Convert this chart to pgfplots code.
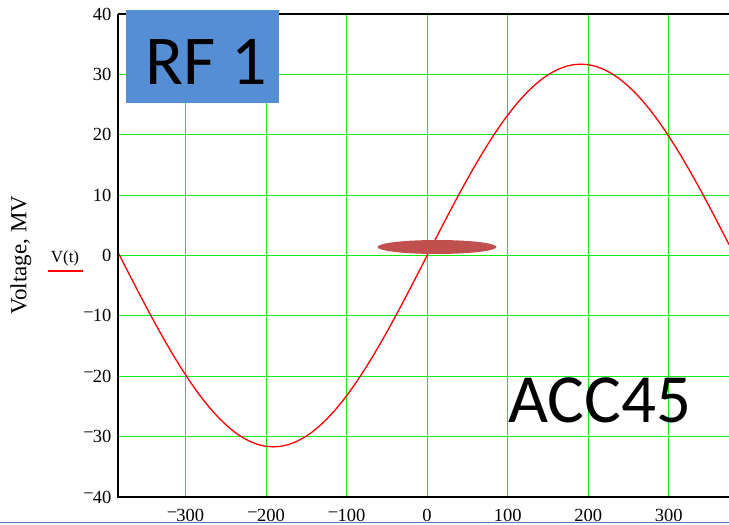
\documentclass[border=0pt]{standalone}
\usepackage{pgfplots}
\pgfplotsset{compat=1.18}
\usepackage{fontspec}
\setmainfont{Liberation Serif}
\newfontfamily\carlito{Carlito}
\definecolor{gridgreen}{RGB}{20,235,20}
\definecolor{boxblue}{RGB}{85,142,213}
\definecolor{ellred}{RGB}{192,80,77}
\definecolor{botblue}{RGB}{79,129,189}
\newcommand\m{\raisebox{0.2em}{−}\kern-0.05em}
\begin{document}
\begin{tikzpicture}
\path[use as bounding box] (-118pt,-28pt) rectangle (611pt,497pt);
\begin{axis}[
  at={(0,0)}, anchor=south west,
  scale only axis, width=611pt, height=483pt,
  xmin=-384, xmax=375, ymin=-40, ymax=40,
  axis line style={draw=none},
  xtick={-300,-200,-100,0,100,200,300},
  xticklabels={\m300,\m200,\m100,0,100,200,300},
  ytick={-40,-30,-20,-10,0,10,20,30,40},
  yticklabels={\m40,\m30,\m20,\m10,0,10,20,30,40},
  major tick length=0pt,
  grid=major,
  major grid style={gridgreen, line width=1pt},
  x tick label style={font=\fontsize{18.5}{20}\selectfont, anchor=base, yshift=-25pt},
  y tick label style={font=\fontsize{18.5}{20}\selectfont, anchor=east, xshift=-3pt},
  clip=true,
]
\addplot[red, line width=1.3pt] coordinates {
(-384,0.52) (-382,0) (-372.45,-2.49) (-362.9,-4.96) (-353.35,-7.40) (-343.8,-9.80)
(-334.25,-12.13) (-324.7,-14.39) (-315.15,-16.56) (-305.6,-18.63) (-296.05,-20.59)
(-286.5,-22.42) (-276.95,-24.11) (-267.4,-25.65) (-257.85,-27.03) (-248.3,-28.24)
(-238.75,-29.29) (-229.2,-30.15) (-219.65,-30.82) (-210.1,-31.31) (-200.55,-31.60)
(-191,-31.70) (-181.45,-31.60) (-171.9,-31.31) (-162.35,-30.82) (-152.8,-30.15)
(-143.25,-29.29) (-133.7,-28.24) (-124.15,-27.03) (-114.6,-25.65) (-105.05,-24.11)
(-95.5,-22.42) (-85.95,-20.59) (-76.4,-18.63) (-66.85,-16.56) (-57.3,-14.39)
(-47.75,-12.13) (-38.2,-9.80) (-28.65,-7.40) (-19.1,-4.96) (-9.55,-2.49)
(0,0) (9.55,2.49) (19.1,4.96) (28.65,7.40) (38.2,9.80) (47.75,12.13) (57.3,14.39)
(66.85,16.56) (76.4,18.63) (85.95,20.59) (95.5,22.42) (105.05,24.11) (114.6,25.65)
(124.15,27.03) (133.7,28.24) (143.25,29.29) (152.8,30.15) (162.35,30.82)
(171.9,31.31) (181.45,31.60) (191,31.70) (200.55,31.60) (210.1,31.31)
(219.65,30.82) (229.2,30.15) (238.75,29.29) (248.3,28.24) (257.85,27.03)
(267.4,25.65) (276.95,24.11) (286.5,22.42) (296.05,20.59) (305.6,18.63)
(315.15,16.56) (324.7,14.39) (334.25,12.13) (343.8,9.80) (353.35,7.40)
(362.9,4.96) (372.45,2.49) (375,1.82)
};
\end{axis}
% axis frame: left, bottom, top
\draw[black, line width=1.5pt] (0,483pt) -- (0,0) -- (611pt,0);
\draw[black, line width=1.5pt] (0,483pt) -- (611pt,483pt);
% ellipse marker
\fill[ellred] (319pt,250pt) ellipse [x radius=59.5pt, y radius=7pt];
% RF 1 box
\fill[boxblue] (8pt,394pt) rectangle (161pt,487pt);
\node[anchor=base, inner sep=0pt, font=\carlito\fontsize{70}{72}\selectfont] at (88pt,412pt) {RF 1};
% ACC45
\node[anchor=base, inner sep=0pt, font=\carlito\fontsize{69}{72}\selectfont] at (482pt,74pt) {ACC45};
% y label and legend
\node[rotate=90, inner sep=0pt, font=\fontsize{23}{25}\selectfont] at (-97pt,242pt) {Voltage, MV};
\node[anchor=base, inner sep=0pt, font=\fontsize{17}{19}\selectfont] at (-53pt,234pt) {V(t)};
\draw[red, line width=1.2pt] (-70pt,226pt) -- (-35pt,226pt);
% bottom blue rule
\draw[botblue, line width=1.5pt] (-118pt,-25.5pt) -- (611pt,-25.5pt);
\end{tikzpicture}
\end{document}
